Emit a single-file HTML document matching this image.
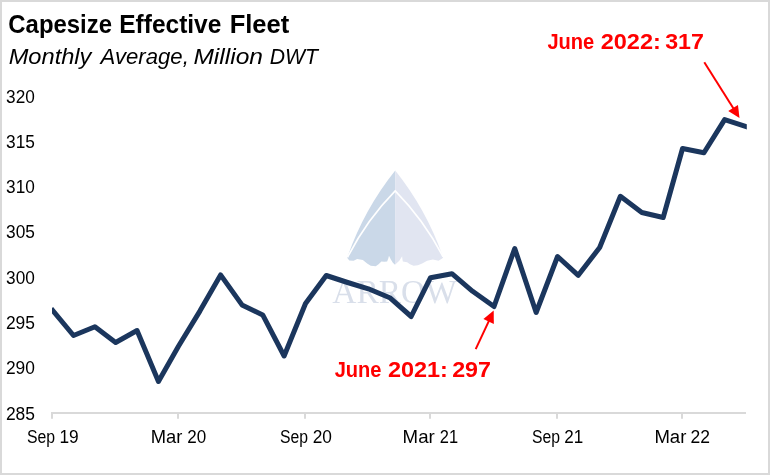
<!DOCTYPE html>
<html><head><meta charset="utf-8"><title>Capesize Effective Fleet</title>
<style>
html,body{margin:0;padding:0;background:#fff;}
body{width:770px;height:475px;overflow:hidden;font-family:"Liberation Sans",sans-serif;}
svg{display:block;will-change:transform;}
text{font-family:"Liberation Sans",sans-serif;}
.serif{font-family:"Liberation Serif",serif;}
</style></head><body>
<svg width="770" height="475" viewBox="0 0 770 475">
<rect x="0" y="0" width="770" height="475" fill="#ffffff"/>
<rect x="1" y="1" width="768" height="473" fill="none" stroke="#d9d9d9" stroke-width="2"/>

<!-- watermark logo -->
<g id="logo">
<g transform="translate(340,165) scale(0.2209)">
<path d="M250,25 Q107.3,203.7 32.3,420.4 L32.3,420.4 L42.0,432.0 L61.4,433.3 L77.6,425.5 L103.5,430.1 L122.9,446.2 L139.0,455.9 L161.7,457.9 L174.6,449.5 L187.5,436.5 L200.5,438.5 L213.4,436.5 L218.6,423.6 L221.8,410.7 L229.6,426.8 L239.3,443.0 L249.0,451.4 Z" fill="#cad8e8"/>
<path d="M250,25 Q392.7,203.7 467,419 L466.9,419.1 L462.4,423.6 L446.2,433.3 L420.4,428.1 L394.5,433.3 L371.9,446.2 L352.5,454.0 L333.1,455.9 L316.9,449.5 L303.9,439.8 L284.5,436.5 L282.6,426.8 L281.3,412.6 L274.8,423.6 L268.4,433.3 L258.7,443.0 L249.0,451.4 Z" fill="#e1e5f1"/>
<path d="M34,418 Q120,249 250,117 Q380,249 467,416" fill="none" stroke="#ffffff" stroke-width="7.5"/>
</g>
<text class="serif" x="332.3" y="303.2" font-size="33" fill="#d9dfea" textLength="124.5" lengthAdjust="spacingAndGlyphs">ARROW</text>
</g>

<!-- title -->
<g fill="#000">
<text transform="translate(8.34,32.70) scale(0.9570,1)" font-size="25" font-weight="bold">Capesize</text>
<text transform="translate(119.23,32.70) scale(0.9803,1)" font-size="25" font-weight="bold">Effective</text>
<text transform="translate(229.66,32.70) scale(1.0226,1)" font-size="25" font-weight="bold">Fleet</text>
<text transform="translate(8.65,63.70) scale(1.0756,1)" font-size="22" font-style="italic">Monthly</text>
<text transform="translate(100.51,63.70) scale(1.0088,1)" font-size="22" font-style="italic">Average,</text>
<text transform="translate(193.43,63.70) scale(1.1166,1)" font-size="22" font-style="italic">Million</text>
<text transform="translate(269.82,63.70) scale(0.9636,1)" font-size="22" font-style="italic">DWT</text>
</g>

<!-- axes -->
<g stroke="#d9d9d9" stroke-width="2" fill="none">
<line x1="51" y1="413" x2="746" y2="413"/>
<line x1="52" y1="413" x2="52" y2="418.8"/>
<line x1="178" y1="413" x2="178" y2="418.8"/>
<line x1="305" y1="413" x2="305" y2="418.8"/>
<line x1="430" y1="413" x2="430" y2="418.8"/>
<line x1="557" y1="413" x2="557" y2="418.8"/>
<line x1="682" y1="413" x2="682" y2="418.8"/>
</g>
<g font-size="17.6" fill="#000">
<text transform="translate(6.11,102.60) scale(0.9795,1)" font-size="17.6">320</text>
<text transform="translate(6.11,147.89) scale(0.9830,1)" font-size="17.6">315</text>
<text transform="translate(6.11,193.17) scale(0.9795,1)" font-size="17.6">310</text>
<text transform="translate(6.11,238.46) scale(0.9830,1)" font-size="17.6">305</text>
<text transform="translate(6.11,283.74) scale(0.9795,1)" font-size="17.6">300</text>
<text transform="translate(5.91,329.03) scale(0.9901,1)" font-size="17.6">295</text>
<text transform="translate(5.91,374.32) scale(0.9865,1)" font-size="17.6">290</text>
<text transform="translate(5.91,419.60) scale(0.9901,1)" font-size="17.6">285</text>
<text transform="translate(26.98,442.60) scale(0.8985,1)" font-size="17.6">Sep</text><text transform="translate(59.42,442.60) scale(0.9835,1)" font-size="17.6">19</text>
<text transform="translate(150.74,442.60) scale(1.0437,1)" font-size="17.6">Mar</text><text transform="translate(187.33,442.60) scale(0.9677,1)" font-size="17.6">20</text>
<text transform="translate(280.08,442.60) scale(0.8952,1)" font-size="17.6">Sep</text><text transform="translate(312.71,442.60) scale(0.9842,1)" font-size="17.6">20</text>
<text transform="translate(402.61,442.60) scale(1.0611,1)" font-size="17.6">Mar</text><text transform="translate(439.75,442.60) scale(0.9339,1)" font-size="17.6">21</text>
<text transform="translate(531.98,442.60) scale(0.8952,1)" font-size="17.6">Sep</text><text transform="translate(564.33,442.60) scale(0.9673,1)" font-size="17.6">21</text>
<text transform="translate(654.42,442.60) scale(1.0541,1)" font-size="17.6">Mar</text><text transform="translate(690.50,442.60) scale(0.9951,1)" font-size="17.6">22</text>
</g>

<!-- series -->
<clipPath id="pc"><rect x="52" y="80" width="694.8" height="340"/></clipPath>
<polyline clip-path="url(#pc)" points="52.80,310.50 73.52,335.50 94.92,326.80 115.64,342.50 137.04,330.50 158.45,381.50 178.47,346.20 199.88,311.10 220.59,274.90 242.00,304.90 262.71,314.90 284.12,356.00 305.52,303.50 326.24,275.50 347.64,282.50 368.36,288.80 389.76,297.70 411.17,316.50 430.50,277.70 451.91,273.70 472.62,291.30 494.03,306.50 514.74,248.50 536.15,312.50 557.56,256.50 578.27,275.30 599.68,247.50 620.39,196.30 641.80,212.50 663.20,217.50 682.54,148.50 703.94,152.80 724.66,119.60 746.06,126.50" fill="none" stroke="#1b365d" stroke-width="5" stroke-linejoin="round" stroke-linecap="square"/>

<!-- annotations -->
<g fill="#ff0000">
<text transform="translate(547.44,48.60) scale(0.8806,1)" font-size="22.8" font-weight="bold">June</text>
<text transform="translate(600.68,48.60) scale(1.0321,1)" font-size="22.8" font-weight="bold">2022:</text>
<text transform="translate(665.19,48.60) scale(1.0175,1)" font-size="22.8" font-weight="bold">317</text>
<text transform="translate(334.64,376.60) scale(0.8806,1)" font-size="22.8" font-weight="bold">June</text>
<text transform="translate(387.88,376.60) scale(1.0303,1)" font-size="22.8" font-weight="bold">2021:</text>
<text transform="translate(452.19,376.60) scale(1.0203,1)" font-size="22.8" font-weight="bold">297</text>
</g>
<g stroke="#ff0000" stroke-width="2" fill="#ff0000">
<line x1="704.30" y1="62.30" x2="733.63" y2="108.80"/><polygon points="739.50,118.10 728.23,111.02 737.96,104.88" stroke="none"/>
<line x1="475.70" y1="349.10" x2="489.04" y2="320.56"/><polygon points="493.70,310.60 493.83,323.91 483.41,319.04" stroke="none"/>
</g>
</svg>
</body></html>
